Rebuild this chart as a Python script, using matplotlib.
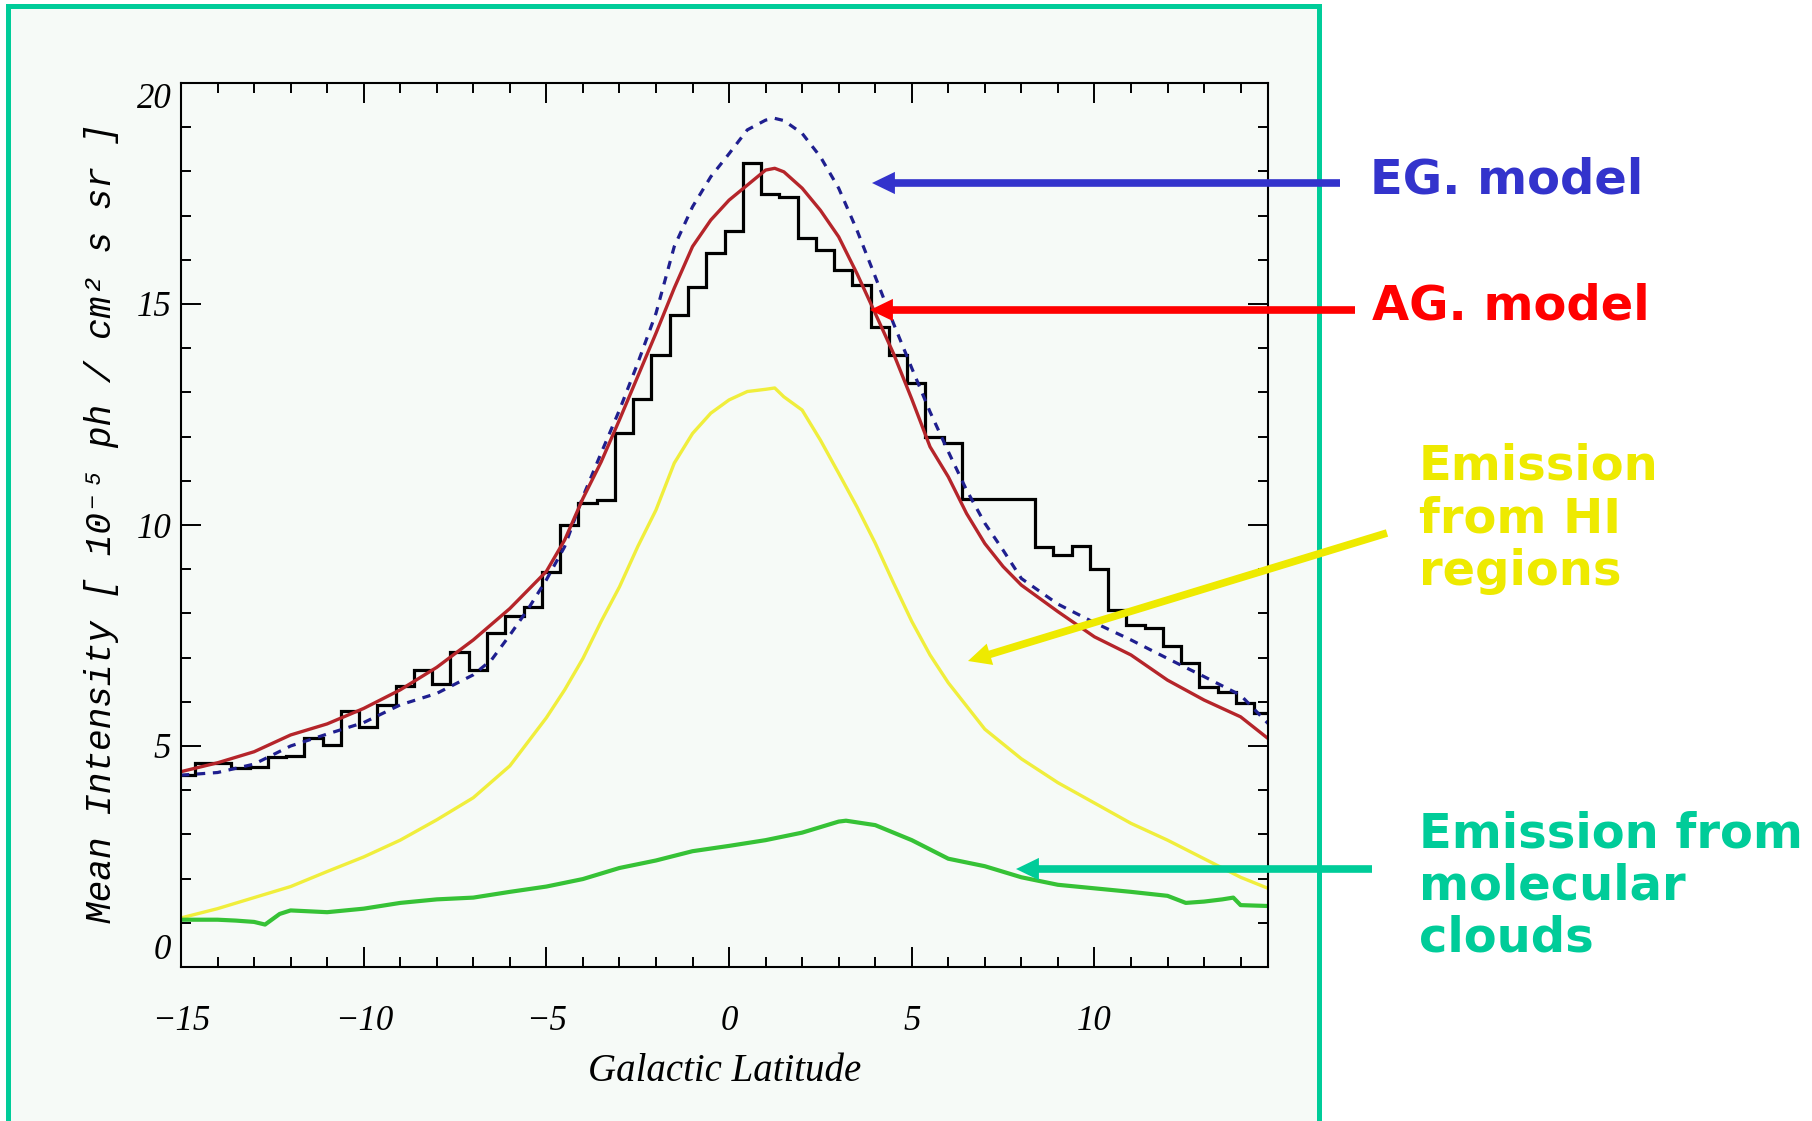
import numpy as np
import matplotlib
matplotlib.use("Agg")
import matplotlib.pyplot as plt
from matplotlib.patches import Rectangle

plt.rcParams['font.family'] = 'Liberation Serif'
plt.rcParams['font.style'] = 'italic'

# --- data ---
# observed mean intensity, 0.5 deg bins (step histogram)
hist_edges = np.arange(-15.125, 14.876, 0.5)
hist_vals = [4.34, 4.61, 4.61, 4.50, 4.52, 4.76, 4.78, 5.17, 5.02, 5.79,
             5.44, 5.93, 6.36, 6.73, 6.40, 7.13, 6.72, 7.55, 7.93, 8.15,
             8.94, 10.00, 10.49, 10.57, 12.09, 12.84, 13.85, 14.75, 15.38, 16.15,
             16.66, 18.20, 17.49, 17.43, 16.50, 16.22, 15.77, 15.43, 14.49, 13.85,
             13.21, 12.00, 11.86, 10.58, 10.58, 10.58, 10.58, 9.51, 9.32, 9.52,
             9.00, 8.08, 7.74, 7.66, 7.26, 6.87, 6.34, 6.23, 5.97, 5.74]

# AG model (red)
ag_lat = [-15, -14, -13, -12, -11, -10, -9, -8, -7, -6, -5, -4.5, -4, -3.5, -3, -2.5,
          -2, -1.5, -1, -0.5, 0, 0.5, 1, 1.25, 1.5, 2, 2.5, 3, 3.5, 4, 4.5, 5, 5.5,
          6, 6.5, 7, 7.5, 8, 9, 10, 11, 12, 13, 14, 14.75]
ag_val = [4.42, 4.62, 4.87, 5.25, 5.50, 5.85, 6.27, 6.78, 7.40, 8.11, 8.95, 9.66, 10.6, 11.43, 12.38, 13.36,
          14.34, 15.36, 16.30, 16.9, 17.35, 17.69, 18.03, 18.07, 17.99, 17.62, 17.12, 16.52, 15.69, 14.79, 13.88, 12.85, 11.77,
          11.09, 10.26, 9.58, 9.06, 8.64, 8.04, 7.47, 7.06, 6.49, 6.04, 5.66, 5.17]

# EG model (blue dashed)
eg_lat = [-15, -14, -13, -12, -11, -10, -9, -8, -7, -6.5, -6, -5.5, -5, -4.5, -4, -3.5, -3, -2.5,
          -2, -1.5, -1, -0.5, 0, 0.5, 1, 1.25, 1.5, 2, 2.5, 3, 3.5, 4, 4.5, 5, 5.5,
          6, 6.5, 7, 7.5, 8, 9, 10, 11, 12, 13, 14, 14.75]
eg_val = [4.34, 4.40, 4.59, 5.0, 5.27, 5.53, 5.93, 6.19, 6.61, 6.95, 7.51, 8.1, 8.76, 9.51, 10.64, 11.63, 12.6, 13.66,
          14.79, 16.30, 17.2, 17.88, 18.4, 18.94, 19.16, 19.2, 19.15, 18.86, 18.33, 17.62, 16.67, 15.62, 14.56, 13.55, 12.56,
          11.66, 10.79, 10.04, 9.43, 8.79, 8.21, 7.79, 7.40, 6.98, 6.57, 6.15, 5.51]

# emission from HI regions (yellow)
hi_lat = [-15, -14, -13, -12, -11, -10, -9, -8, -7, -6, -5, -4.5, -4, -3.5, -3, -2.5,
          -2, -1.5, -1, -0.5, 0, 0.5, 1, 1.25, 1.5, 2, 2.5, 3, 3.5, 4, 4.5, 5, 5.5,
          6, 7, 8, 9, 10, 11, 12, 13, 14, 14.75]
hi_val = [1.11, 1.32, 1.57, 1.82, 2.16, 2.49, 2.87, 3.33, 3.83, 4.55, 5.64, 6.27, 6.98, 7.82, 8.6, 9.51,
          10.34, 11.4, 12.07, 12.53, 12.83, 13.02, 13.07, 13.1, 12.9, 12.6, 11.92, 11.17, 10.41, 9.59, 8.69, 7.82, 7.06,
          6.43, 5.38, 4.71, 4.17, 3.71, 3.25, 2.87, 2.45, 2.03, 1.78]

# emission from molecular clouds (green)
co_lat = [-15, -14, -13.5, -13, -12.7, -12.3, -12, -11, -10, -9, -8, -7, -6, -5, -4, -3,
          -2, -1, 0, 1, 2, 3, 3.2, 4, 5, 6, 7, 8, 9, 10, 11, 12, 12.5, 13, 13.5, 13.8, 14, 14.75]
co_val = [1.07, 1.07, 1.05, 1.02, 0.96, 1.2, 1.28, 1.24, 1.32, 1.45, 1.53, 1.57, 1.70, 1.82, 1.99, 2.24,
          2.41, 2.62, 2.74, 2.87, 3.04, 3.29, 3.31, 3.21, 2.87, 2.45, 2.28, 2.03, 1.86, 1.78, 1.70, 1.61, 1.45, 1.48, 1.53, 1.57, 1.40, 1.38]

W, H = 1812, 1121
fig = plt.figure(figsize=(W / 100, H / 100), dpi=100)
fig.patch.set_facecolor('white')

# background panel with green frame
bg = fig.add_axes([0, 0, 1, 1], zorder=0)
bg.set_xlim(0, W)
bg.set_ylim(H, 0)
bg.axis('off')
bg.add_patch(Rectangle((7.5, 6), 1311.5, 1200, facecolor='#f6faf7',
                       edgecolor='#00cc99', lw=3.6))

# main plot
ax = fig.add_axes([181 / W, 1 - 967 / H, (1268 - 181) / W, (967 - 83) / H], zorder=1)
ax.set_facecolor('#f6faf7')
ax.plot(hi_lat, hi_val, color='#f0ee3c', lw=2.4)
ax.plot(co_lat, co_val, color='#36c236', lw=3.0)
ax.stairs(hist_vals, hist_edges, baseline=None, color='black', lw=2.3)
ax.plot(eg_lat, eg_val, color='#1f1f8f', lw=2.3, dashes=(2.6, 2.4))
ax.plot(ag_lat, ag_val, color='#b5252a', lw=2.4)

ax.set_xlim(-15, 14.75)
ax.set_ylim(0, 20)
ax.set_xticks([-15, -10, -5, 0, 5, 10])
ax.set_yticks([0, 5, 10, 15, 20])
ax.set_xticks(np.arange(-15, 15), minor=True)
ax.set_yticks(np.arange(0, 21), minor=True)
ax.tick_params(which='both', direction='in', top=True, right=True, width=1.4)
ax.tick_params(which='major', length=14.5)
ax.tick_params(which='minor', length=7.5)
ax.tick_params(axis='x', pad=27, labelsize=25)
ax.tick_params(axis='y', pad=7, labelsize=25)
for s in ax.spines.values():
    s.set_linewidth(1.5)
fig.canvas.draw()
ylabels = ax.get_yticklabels()
ylabels[0].set_va('bottom')
ylabels[-1].set_va('top')

ax.set_xlabel('Galactic Latitude', fontsize=28)
ax.xaxis.set_label_coords(0.5, -0.097)
ax.set_ylabel('Mean Intensity [ 10⁻⁵ ph / cm² s sr ]', fontsize=26,
              family=['Liberation Mono', 'DejaVu Sans Mono'], style='italic', va='center')
ax.yaxis.set_label_coords(-0.0727, 0.502)

# annotation overlay, in pixel coordinates of the picture
ov = fig.add_axes([0, 0, 1, 1], zorder=2)
ov.set_xlim(0, W)
ov.set_ylim(H, 0)
ov.axis('off')
ov.patch.set_alpha(0)

tk = dict(family='DejaVu Sans', weight='bold', style='normal', fontsize=34.6,
          ha='left', va='baseline')
ov.text(1370, 193, 'EG. model', color='#3333cc', **tk)
ov.text(1372, 320, 'AG. model', color='#ff0000', **tk)
for i, line in enumerate(['Emission', 'from HI', 'regions']):
    ov.text(1419, 480 + 52.5 * i, line, color='#eeea00', **tk)
for i, line in enumerate(['Emission from', 'molecular', 'clouds']):
    ov.text(1419, 847.5 + 52 * i, line, color='#00cc99', **tk)

arrow_style = 'simple,head_length=16.5,head_width=16,tail_width=5.5'
arrows = [((872, 183), (1340, 183), '#3333cc'),
          ((870, 310), (1355, 310), '#ff0000'),
          ((968, 661), (1387, 533), '#eeea00'),
          ((1016, 869), (1372, 869), '#00cc99')]
for tip, tail, col in arrows:
    ov.annotate('', xy=tip, xytext=tail,
                arrowprops=dict(arrowstyle=arrow_style, mutation_scale=1,
                                color=col, lw=0, shrinkA=0, shrinkB=0))

fig.savefig('out.png', dpi=100)
